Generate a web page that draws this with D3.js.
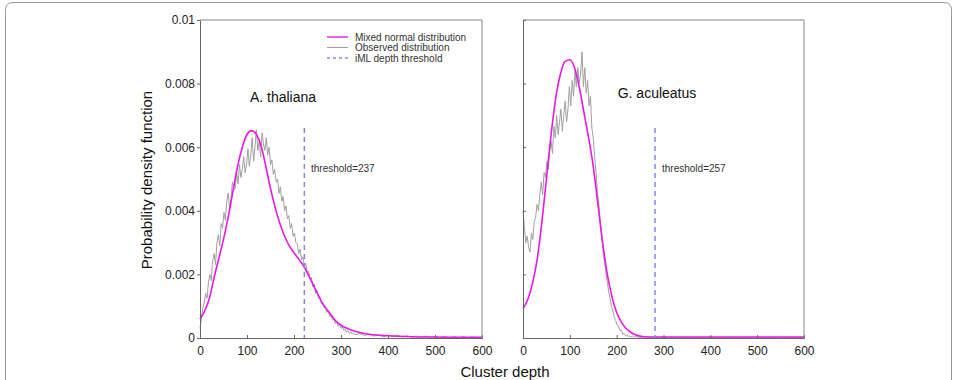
<!DOCTYPE html>
<html>
<head>
<meta charset="utf-8">
<script src="https://cdn.jsdelivr.net/npm/d3@7"></script>
<style>
  body { margin: 0; background: #fff; }
  svg { display: block; font-family: "Liberation Sans", Arial, sans-serif; }
</style>
</head>
<body>
<svg id="chart" width="957" height="380"></svg>
<script>
// ---- data ----
const panelNames = ["A. thaliana", "G. aculeatus"];
const thresholdDepth = [222, 282];
const thresholdLabels = ["threshold=237", "threshold=257"];
const thresholdTop = 0.0066;
const xTicks = [0, 100, 200, 300, 400, 500, 600];
const yTicks = [0, 0.002, 0.004, 0.006, 0.008, 0.01];
const legendLabels = ["Mixed normal distribution", "Observed distribution", "iML depth threshold"];

// A. thaliana, observed (bins 0..330 every 3, then every 10)
const obsDepthA = d3.range(0, 331, 3).concat(d3.range(340, 601, 10));
const obsA = [
  0.00030, 0.00060, 0.00095, 0.00110, 0.00140, 0.00125, 0.00175, 0.00200, 0.00180, 0.00245,
  0.00265, 0.00230, 0.00300, 0.00325, 0.00290, 0.00360, 0.00345, 0.00395, 0.00370, 0.00430,
  0.00455, 0.00410, 0.00440, 0.00490, 0.00465, 0.00470, 0.00520, 0.00485, 0.00545, 0.00505,
  0.00530, 0.00570, 0.00520, 0.00545, 0.00595, 0.00540, 0.00575, 0.00630, 0.00555, 0.00600,
  0.00655, 0.00590, 0.00620, 0.00570, 0.00645, 0.00610, 0.00590, 0.00630, 0.00575, 0.00600,
  0.00545, 0.00560, 0.00515, 0.00530, 0.00490, 0.00500, 0.00455, 0.00475, 0.00430, 0.00445,
  0.00400, 0.00415, 0.00375, 0.00385, 0.00345, 0.00360, 0.00320, 0.00330, 0.00300, 0.00295,
  0.00265, 0.00280, 0.00245, 0.00255, 0.00225, 0.00235, 0.00205, 0.00210, 0.00185, 0.00190,
  0.00160, 0.00170, 0.00140, 0.00150, 0.00125, 0.00130, 0.00110, 0.00112, 0.00095, 0.00098,
  0.00080, 0.00085, 0.00068, 0.00070, 0.00056, 0.00060, 0.00045, 0.00050, 0.00038, 0.00041,
  0.00030, 0.00034, 0.00024, 0.00028, 0.00019, 0.00023, 0.00015, 0.00019, 0.00012, 0.00016,
  0.00010,
  0.00014, 0.00008, 0.00012, 0.00006, 0.00010, 0.00005, 0.00009, 0.00004, 0.00008, 0.00003,
  0.00007, 0.00003, 0.00006, 0.00002, 0.00006, 0.00002, 0.00005, 0.00001, 0.00005, 0.00001,
  0.00004, 0.00001, 0.00004, 0.00001, 0.00003, 0.00001, 0.00002
];

// A. thaliana, mixed normal fit
const fitDepthA = [0, 10, 20, 30, 40, 50, 60, 70, 80, 90, 100, 110, 120, 130, 140, 150, 160, 170,
  180, 190, 200, 210, 220, 230, 240, 250, 260, 270, 280, 290, 300, 310, 320, 330, 340, 350,
  370, 400, 450, 500, 550, 600];
const fitA = [0.00060, 0.00085, 0.00125, 0.00190, 0.00250, 0.00310, 0.00380, 0.00460, 0.00540,
  0.00600, 0.00640, 0.00652, 0.00640, 0.00605, 0.00540, 0.00470, 0.00410, 0.00360, 0.00320,
  0.00290, 0.00268, 0.00248, 0.00228, 0.00200, 0.00170, 0.00140, 0.00110, 0.00090, 0.00070,
  0.00052, 0.00040, 0.00032, 0.00026, 0.00021, 0.00017, 0.00014, 0.00010, 0.00007, 0.00004,
  0.00003, 0.00002, 0.00002];

// G. aculeatus, observed (bins 0..240 every 3, then every 10)
const obsDepthG = d3.range(0, 241, 3).concat(d3.range(250, 601, 10));
const obsG = [
  0.00400, 0.00350, 0.00300, 0.00320, 0.00285, 0.00270, 0.00330, 0.00310, 0.00365, 0.00380,
  0.00420, 0.00400, 0.00455, 0.00490, 0.00450, 0.00520, 0.00505, 0.00555, 0.00530, 0.00590,
  0.00620, 0.00580, 0.00665, 0.00630, 0.00700, 0.00640, 0.00680, 0.00720, 0.00650, 0.00700,
  0.00745, 0.00680, 0.00720, 0.00790, 0.00730, 0.00810, 0.00760, 0.00840, 0.00790, 0.00850,
  0.00800, 0.00830, 0.00900, 0.00790, 0.00850, 0.00770, 0.00810, 0.00730, 0.00760, 0.00660,
  0.00630, 0.00570, 0.00520, 0.00460, 0.00420, 0.00365, 0.00320, 0.00275, 0.00240, 0.00205,
  0.00175, 0.00145, 0.00125, 0.00100, 0.00085, 0.00065, 0.00055, 0.00040, 0.00038, 0.00024,
  0.00025, 0.00012, 0.00014, 0.00007, 0.00010, 0.00004, 0.00007, 0.00003, 0.00006, 0.00002,
  0.00005,
  0.00002, 0.00004, 0.00001, 0.00003, 0.00001, 0.00003, 0.00001, 0.00002, 0.00001, 0.00002,
  0.00001, 0.00002, 0.00001, 0.00002, 0.00001, 0.00002, 0.00001, 0.00002, 0.00001, 0.00002,
  0.00001, 0.00002, 0.00001, 0.00002, 0.00001, 0.00002, 0.00001, 0.00002, 0.00001, 0.00002,
  0.00001, 0.00002, 0.00001, 0.00002, 0.00001, 0.00002
];

// G. aculeatus, mixed normal fit
const fitDepthG = [0, 10, 20, 30, 40, 50, 60, 70, 80, 90, 100, 110, 120, 130, 140, 150, 160, 170,
  180, 190, 200, 210, 220, 230, 240, 250, 260, 280, 300, 400, 500, 600];
const fitG = [0.00092, 0.00120, 0.00170, 0.00245, 0.00360, 0.00500, 0.00640, 0.00755, 0.00830,
  0.00870, 0.00875, 0.00850, 0.00790, 0.00710, 0.00630, 0.00540, 0.00420, 0.00300, 0.00200,
  0.00130, 0.00080, 0.00050, 0.00030, 0.00018, 0.00010, 0.00006, 0.00004, 0.00003, 0.00003,
  0.00003, 0.00003, 0.00003];

// ---- drawing ----
const svg = d3.select("#chart");
const plotTop = 20, plotBottom = 338;
const panels = [
  { x0: 200, x1: 482, obsD: obsDepthA, obs: obsA, fitD: fitDepthA, fit: fitA, labels: true,
    titleX: 283, titleY: 102, noteX: 311 },
  { x0: 523, x1: 804, obsD: obsDepthG, obs: obsG, fitD: fitDepthG, fit: fitG, labels: false,
    titleX: 657, titleY: 98, noteX: 662 }
];

const y = d3.scaleLinear().domain([0, 0.01]).range([plotBottom, plotTop]);

// outer frame
svg.append("path")
  .attr("d", "M5.5,380 V10 Q5.5,2.5 13,2.5 H944 Q951.5,2.5 951.5,10 V380")
  .attr("fill", "none").attr("stroke", "#9a9a9a").attr("stroke-width", 1);

panels.forEach(function (p, i) {
  const x = d3.scaleLinear().domain([0, 600]).range([p.x0, p.x1]);
  const g = svg.append("g");

  const lineObs = d3.line()
    .x(function (d, k) { return x(p.obsD[k]); })
    .y(function (d) { return y(d); });
  const lineFit = d3.line()
    .x(function (d, k) { return x(p.fitD[k]); })
    .y(function (d) { return y(d); })
    .curve(d3.curveMonotoneX);

  g.append("path").datum(p.obs)
    .attr("d", lineObs)
    .attr("fill", "none").attr("stroke", "#a0a0a0").attr("stroke-width", 1);

  g.append("path").datum(p.fit)
    .attr("d", lineFit)
    .attr("fill", "none").attr("stroke", "#e619e6").attr("stroke-width", 1.6);

  // threshold
  g.append("line")
    .attr("x1", x(thresholdDepth[i])).attr("x2", x(thresholdDepth[i]))
    .attr("y1", y(thresholdTop)).attr("y2", y(0))
    .attr("stroke", "#8585ee").attr("stroke-width", 1.5)
    .attr("stroke-dasharray", "5,4");

  g.append("text")
    .attr("x", p.noteX).attr("y", 172)
    .attr("font-size", 10).attr("fill", "#333")
    .text(thresholdLabels[i]);

  g.append("text")
    .attr("x", p.titleX).attr("y", p.titleY)
    .attr("text-anchor", "middle")
    .attr("font-size", 14).attr("fill", "#111")
    .text(panelNames[i]);

  // axes
  const xAxis = d3.axisBottom(x).tickValues(xTicks).tickSize(-3).tickPadding(8).tickFormat(d3.format("d"));
  const gx = g.append("g").attr("transform", "translate(0," + plotBottom + ")").call(xAxis);
  gx.selectAll("text").attr("font-size", 12).attr("fill", "#222");

  const yAxis = p.labels
    ? d3.axisLeft(y).tickValues(yTicks).tickSize(3).tickPadding(2).tickFormat(function (d) { return d === 0 ? "0" : d3.format("")(d); })
    : d3.axisLeft(y).tickValues(yTicks).tickSize(-3).tickFormat("");
  const gy = g.append("g").attr("transform", "translate(" + p.x0 + ",0)").call(yAxis);
  gy.selectAll("text").attr("font-size", 12).attr("fill", "#222");

  [gx, gy].forEach(function (a) {
    a.select(".domain").attr("stroke", "#666");
    a.selectAll(".tick line").attr("stroke", "#666");
  });

  // box top and right
  g.append("path")
    .attr("d", "M" + p.x0 + "," + plotTop + " H" + p.x1 + " V" + plotBottom)
    .attr("fill", "none").attr("stroke", "#888").attr("stroke-width", 1);
});

// legend
const legendColors = ["#e619e6", "#a0a0a0", "#8585ee"];
const legendDash = [null, null, "3,3"];
const leg = svg.append("g");
legendLabels.forEach(function (t, k) {
  const ly = 37 + k * 10.5;
  leg.append("line")
    .attr("x1", 327).attr("x2", 348).attr("y1", ly).attr("y2", ly)
    .attr("stroke", legendColors[k]).attr("stroke-width", k === 1 ? 1 : 1.4)
    .attr("stroke-dasharray", legendDash[k]);
  leg.append("text")
    .attr("x", 355).attr("y", ly + 3.5)
    .attr("font-size", 10).attr("fill", "#333")
    .text(t);
});

// axis titles
svg.append("text")
  .attr("transform", "translate(152,180) rotate(-90)")
  .attr("text-anchor", "middle")
  .attr("font-size", 15).attr("fill", "#111")
  .text("Probability density function");

svg.append("text")
  .attr("x", 505).attr("y", 377)
  .attr("text-anchor", "middle")
  .attr("font-size", 15).attr("fill", "#111")
  .text("Cluster depth");
</script>
</body>
</html>
